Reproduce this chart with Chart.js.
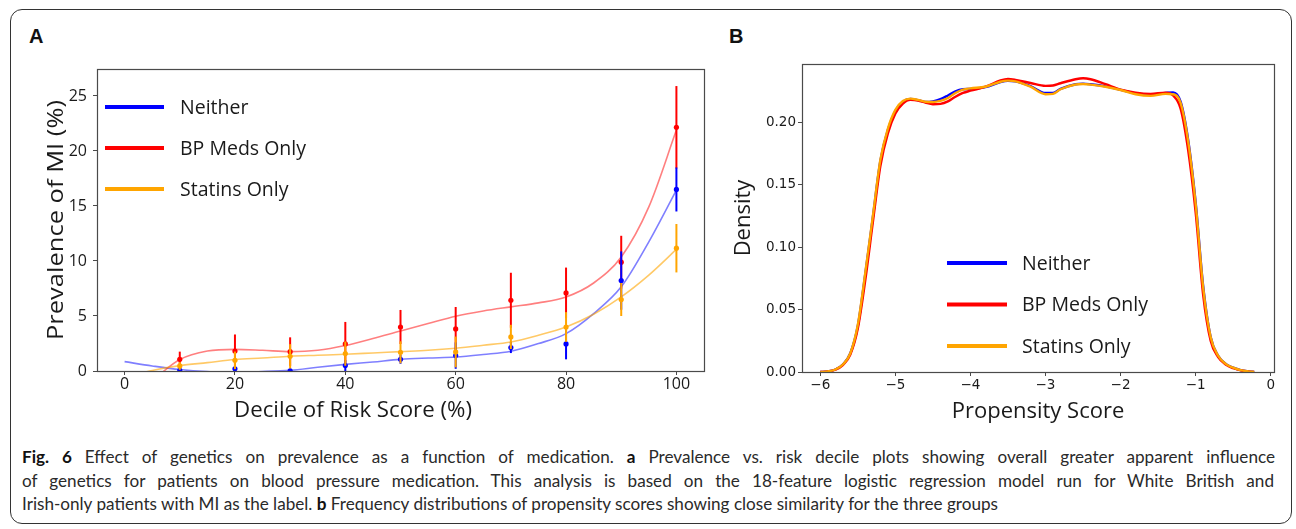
<!DOCTYPE html>
<html><head><meta charset="utf-8">
<script src="https://cdn.jsdelivr.net/npm/chart.js@4/dist/chart.umd.min.js"></script>
<style>
html,body{margin:0;padding:0;background:#fff;}
body{width:1296px;height:529px;position:relative;overflow:hidden;font-family:'Open Sans',sans-serif;}
#frame{position:absolute;left:10px;top:9px;width:1282px;height:515px;border:1.5px solid #333;border-radius:12px;box-sizing:border-box;}
.panel{position:absolute;font-family:'Liberation Sans',Arial,sans-serif;font-weight:bold;font-size:20px;color:#111;line-height:20px;}
canvas{position:absolute;}
.cap{position:absolute;left:22px;white-space:nowrap;font-family:'Lato',sans-serif;font-size:17.5px;line-height:22px;color:#2a2a2a;transform-origin:0 0;}
.cap b{color:#111;}
</style></head><body>
<div id="frame"></div>
<div class="panel" style="left:29px;top:26px;">A</div>
<div class="panel" style="left:729px;top:26px;">B</div>
<canvas id="cA" width="720" height="440" style="left:0;top:0;"></canvas>
<canvas id="cB" width="576" height="440" style="left:720px;top:0;"></canvas>
<div class="cap" id="l1" style="top:446px;"><b>Fig. 6</b> Effect of genetics on prevalence as a function of medication. <b>a</b> Prevalence vs. risk decile plots showing overall greater apparent influence</div>
<div class="cap" id="l2" style="top:470px;">of genetics for patients on blood pressure medication. This analysis is based on the 18-feature logistic regression model run for White British and</div>
<div class="cap" id="l3" style="top:493px;">Irish-only patients with MI as the label. <b>b</b> Frequency distributions of propensity scores showing close similarity for the three groups</div>
<script>
// ---------- Data: panel A ----------
const seriesNames = ['Neither', 'BP Meds Only', 'Statins Only'];
const deciles = [10, 20, 30, 40, 50, 60, 70, 80, 90, 100];
const neitherPrev = [0.06, 0.2, 0.02, 0.49, 1.06, 1.4, 2.13, 2.46, 8.22, 16.5];
const neitherErr  = [0.15, 0.3, 0.2, 0.5, 0.4, 1.2, 0.5, 1.4, 2.65, 2.0];
const bpPrev      = [1.06, 1.82, 1.76, 2.46, 4.0, 3.82, 6.43, 7.1, 9.89, 22.15];
const bpErr       = [0.7, 1.5, 1.3, 2.0, 1.55, 2.0, 2.5, 2.3, 2.4, 3.75];
const statinPrev  = [0.46, 0.97, 1.34, 1.58, 1.7, 1.73, 3.1, 4.0, 6.5, 11.16];
const statinErr   = [0.35, 0.8, 1.1, 1.1, 1.0, 1.4, 1.1, 1.35, 1.5, 2.2];
const fitX        = [0, 5, 10, 15, 20, 25, 30, 35, 40, 45, 50, 55, 60, 65, 70, 75, 80, 85, 90, 95, 100];
const neitherFit  = [0.85, 0.46, 0.13, -0.05, -0.1, -0.05, 0.06, 0.34, 0.6, 0.82, 1.06, 1.18, 1.27, 1.5, 1.79, 2.49, 3.4, 5.22, 7.65, 11.74, 16.44];
const bpFit       = [-3.0, -0.9, 1.04, 1.82, 1.97, 1.88, 1.76, 1.88, 2.31, 2.95, 3.64, 4.31, 4.98, 5.46, 5.83, 6.19, 6.73, 8.0, 10.37, 14.92, 21.9];
const statinFit   = [-0.6, 0.05, 0.49, 0.76, 1.04, 1.18, 1.34, 1.43, 1.52, 1.64, 1.76, 1.88, 2.07, 2.34, 2.64, 3.25, 4.0, 5.16, 6.73, 8.71, 11.05];
const decileTicks = [0, 20, 40, 60, 80, 100];
const prevTicks   = [0, 5, 10, 15, 20, 25];

// ---------- Data: panel B ----------
const scoreX = [-6.0,-5.9,-5.8,-5.7,-5.6,-5.5,-5.4,-5.3,-5.2,-5.1,-5.0,-4.9,-4.8,-4.7,-4.6,-4.5,-4.4,-4.3,-4.2,-4.1,-4.0,-3.8,-3.6,-3.5,-3.4,-3.2,-3.0,-2.9,-2.8,-2.6,-2.5,-2.4,-2.2,-2.0,-1.8,-1.6,-1.4,-1.3,-1.2,-1.1,-1.0,-0.9,-0.8,-0.7,-0.6,-0.5,-0.4,-0.3,-0.22];
const neitherDens = [0,0.0005,0.002,0.006,0.015,0.037,0.079,0.124,0.169,0.194,0.209,0.2165,0.2187,0.2178,0.2163,0.2168,0.2185,0.2215,0.2248,0.2265,0.2268,0.2282,0.2322,0.2332,0.2328,0.229,0.2235,0.2235,0.2268,0.2305,0.231,0.2305,0.2288,0.226,0.2232,0.222,0.2235,0.224,0.2165,0.186,0.136,0.069,0.028,0.013,0.0065,0.0035,0.0015,0.0005,0];
const bpDens      = [0,0.0004,0.0018,0.0055,0.014,0.035,0.074,0.12,0.165,0.191,0.207,0.215,0.218,0.2175,0.2158,0.2145,0.2148,0.2168,0.2205,0.2235,0.2253,0.2285,0.2335,0.2347,0.234,0.2315,0.2292,0.2295,0.2313,0.2345,0.2353,0.2345,0.2305,0.2262,0.2238,0.2228,0.2238,0.2215,0.211,0.178,0.128,0.062,0.025,0.012,0.006,0.003,0.0013,0.0004,0];
const statinDens  = [0,0.0005,0.002,0.006,0.015,0.038,0.08,0.125,0.17,0.195,0.21,0.217,0.219,0.218,0.2165,0.2163,0.2172,0.2195,0.2235,0.2262,0.2272,0.2285,0.2325,0.2334,0.2328,0.2285,0.2225,0.2228,0.2265,0.2303,0.2307,0.2302,0.2285,0.2259,0.2225,0.2212,0.2228,0.2225,0.2155,0.185,0.135,0.068,0.028,0.013,0.0065,0.0035,0.0015,0.0005,0];
const scoreTicks   = [-6, -5, -4, -3, -2, -1, 0];
const densityTicks = [0, 0.05, 0.10, 0.15, 0.20];

// ---------- styling ----------
const solid = ['#0000ff', '#ff0000', '#ffa500'];
const faded = ['rgba(0,0,255,0.5)', 'rgba(255,0,0,0.5)', 'rgba(255,165,0,0.6)'];
const FRAME = '#4a4a4a';
const TEXT = '#1a1a1a';

const pairs = (xs, ys) => xs.map((x, k) => ({x, y: ys[k]}));

const framePlugin = {
  id: 'frame',
  afterDraw(chart) {
    const {ctx, chartArea: a} = chart;
    ctx.save();
    ctx.strokeStyle = FRAME; ctx.lineWidth = 1.2;
    ctx.strokeRect(Math.round(a.left) + 0.5, Math.round(a.top) + 0.5, Math.round(a.right - a.left), Math.round(a.bottom - a.top));
    ctx.restore();
  }
};
const errPlugin = {
  id: 'errbars',
  beforeDatasetDraw(chart, args) {
    const ds = chart.data.datasets[args.index];
    if (!ds.errors) return;
    const {ctx, chartArea: a} = chart;
    const xs = chart.scales.x, ys = chart.scales.y;
    ctx.save();
    ctx.beginPath(); ctx.rect(a.left, a.top, a.right - a.left, a.bottom - a.top); ctx.clip();
    ctx.strokeStyle = ds.barColor; ctx.lineWidth = 2;
    ds.data.forEach((p, k) => {
      const e = ds.errors[k];
      const x = xs.getPixelForValue(p.x);
      ctx.beginPath();
      ctx.moveTo(x, ys.getPixelForValue(p.y - e));
      ctx.lineTo(x, ys.getPixelForValue(p.y + e));
      ctx.stroke();
    });
    ctx.restore();
  }
};
const legendPlugin = {
  id: 'inLegend',
  afterDraw(chart, args, o) {
    if (!o || !o.items) return;
    const ctx = chart.ctx;
    ctx.save();
    o.items.forEach((it, i) => {
      const y = o.y0 + i * o.dy;
      ctx.strokeStyle = it.color; ctx.lineWidth = o.lw; ctx.lineCap = 'butt';
      ctx.beginPath(); ctx.moveTo(o.x0, y); ctx.lineTo(o.x0 + o.len, y); ctx.stroke();
      ctx.fillStyle = TEXT; ctx.font = o.font; ctx.textBaseline = 'middle'; ctx.textAlign = 'left';
      ctx.fillText(it.label, o.tx, y + 1);
    });
    ctx.restore();
  }
};
// free-positioned axis titles (panel A's titles sit off the axis centre in the reference)
const titlePlugin = {
  id: 'freeTitles',
  afterDraw(chart, args, o) {
    if (!o || !o.items) return;
    const ctx = chart.ctx;
    o.items.forEach(t => {
      ctx.save();
      ctx.translate(t.x, t.y);
      if (t.rot) ctx.rotate(t.rot);
      ctx.font = t.font; ctx.fillStyle = TEXT; ctx.textAlign = 'center'; ctx.textBaseline = 'middle';
      const w = ctx.measureText(t.text).width;
      if (t.len) ctx.scale(t.len / w, 1);
      ctx.fillText(t.text, 0, 0);
      ctx.restore();
    });
  }
};

function setTicks(values) { return s => { s.ticks = values.map(v => ({value: v})); }; }

// ---------- Panel A ----------
function fitDs(i, vals) {
  return {label: seriesNames[i] + ' fit', data: pairs(fitX, vals), showLine: true, borderColor: faded[i],
    borderWidth: 1.6, pointRadius: 0, cubicInterpolationMode: 'monotone', fill: false, clip: 0};
}
function ptsDs(i, vals, errs) {
  return {label: seriesNames[i], data: pairs(deciles, vals), errors: errs, barColor: solid[i], showLine: false,
    pointRadius: 2.6, pointBackgroundColor: solid[i], pointBorderColor: solid[i], pointBorderWidth: 0, clip: 0};
}
const fontA = {family: "'Open Sans', sans-serif"};
new Chart(document.getElementById('cA'), {
  type: 'scatter',
  data: {datasets: [
    ptsDs(2, statinPrev, statinErr), ptsDs(0, neitherPrev, neitherErr), ptsDs(1, bpPrev, bpErr),
    fitDs(2, statinFit), fitDs(1, bpFit), fitDs(0, neitherFit)
  ]},
  plugins: [errPlugin, framePlugin, legendPlugin, titlePlugin],
  options: {
    responsive: false, animation: false, devicePixelRatio: 1,
    layout: {padding: {top: 69, right: 16, left: 0, bottom: 0}},
    plugins: {legend: {display: false}, tooltip: {enabled: false},
      inLegend: {items: seriesNames.map((n, i) => ({label: n, color: solid[i]})),
        x0: 105, len: 59, tx: 180, y0: 107, dy: 41, lw: 4, font: "19.5px 'Open Sans', sans-serif"},
      freeTitles: {items: [
        {text: 'Decile of Risk Score (%)', x: 353, y: 411, font: "22px 'Open Sans', sans-serif", len: 238},
        {text: 'Prevalence of MI (%)', x: 57, y: 220, rot: -Math.PI / 2, font: "22px 'Open Sans', sans-serif", len: 240}
      ]}},
    scales: {
      x: {type: 'linear', min: -5, max: 105, afterBuildTicks: setTicks(decileTicks),
        afterFit: s => { s.height = 69; },
        grid: {drawOnChartArea: false, drawTicks: true, tickLength: 4, tickColor: FRAME},
        border: {display: false},
        ticks: {color: TEXT, padding: 0, font: {...fontA, size: 16}, maxRotation: 0}},
      y: {type: 'linear', min: 0, max: 27.45, afterBuildTicks: setTicks(prevTicks),
        afterFit: s => { s.width = 97; },
        grid: {drawOnChartArea: false, drawTicks: true, tickLength: 4, tickColor: FRAME},
        border: {display: false},
        ticks: {color: TEXT, padding: 6, font: {...fontA, size: 16}}}
    }
  }
});

// ---------- Panel B ----------
function densDs(i, vals) {
  return {label: seriesNames[i], data: pairs(scoreX, vals), showLine: true, borderColor: solid[i],
    borderWidth: 2.4, pointRadius: 0, cubicInterpolationMode: 'monotone', fill: false, clip: 0};
}
const tickB = {family: "'DejaVu Sans', sans-serif", size: 13.5};
new Chart(document.getElementById('cB'), {
  type: 'scatter',
  data: {datasets: [densDs(2, statinDens), densDs(1, bpDens), densDs(0, neitherDens)]},
  plugins: [framePlugin, legendPlugin],
  options: {
    responsive: false, animation: false, devicePixelRatio: 1,
    layout: {padding: {top: 64, right: 22, left: 0, bottom: 0}},
    plugins: {legend: {display: false}, tooltip: {enabled: false},
      inLegend: {items: seriesNames.map((n, i) => ({label: n, color: solid[i]})),
        x0: 227, len: 60, tx: 302, y0: 263, dy: 41.5, lw: 4, font: "19.5px 'Open Sans', sans-serif"}},
    scales: {
      x: {type: 'linear', min: -6.244, max: 0.044, afterBuildTicks: setTicks(scoreTicks),
        afterFit: s => { s.height = 68; },
        grid: {drawOnChartArea: false, drawTicks: true, tickLength: 4, tickColor: FRAME},
        border: {display: false},
        ticks: {color: TEXT, padding: 1, font: tickB, maxRotation: 0,
          callback: v => (v < 0 ? '\u2212' + Math.abs(v) : String(v))},
        title: {display: true, text: 'Propensity Score', color: TEXT, font: {...fontA, size: 22}, padding: {top: 0, bottom: 15}}},
      y: {type: 'linear', min: 0, max: 0.2467, afterBuildTicks: setTicks(densityTicks),
        afterFit: s => { s.width = 82; },
        grid: {drawOnChartArea: false, drawTicks: true, tickLength: 4, tickColor: FRAME},
        border: {display: false},
        ticks: {color: TEXT, padding: 2, font: tickB, callback: v => v.toFixed(2)},
        title: {display: true, text: 'Density', color: TEXT, font: {...fontA, size: 22}, padding: {top: 11, bottom: 0}}}
    }
  }
});

// ---------- caption: condensed uniformly, lines 1-2 justified ----------
(function () {
  const l1 = document.getElementById('l1'), l2 = document.getElementById('l2'), l3 = document.getElementById('l3');
  const s = 976 / l3.getBoundingClientRect().width;
  [[l1, 1253], [l2, 1252]].forEach(([el, w]) => {
    const cur = el.getBoundingClientRect().width;
    const n = (el.textContent.match(/ /g) || []).length;
    el.style.wordSpacing = ((w / s - cur) / n) + 'px';
  });
  [l1, l2, l3].forEach(el => { el.style.transform = 'scaleX(' + s + ')'; });
})();
</script>
</body></html>
